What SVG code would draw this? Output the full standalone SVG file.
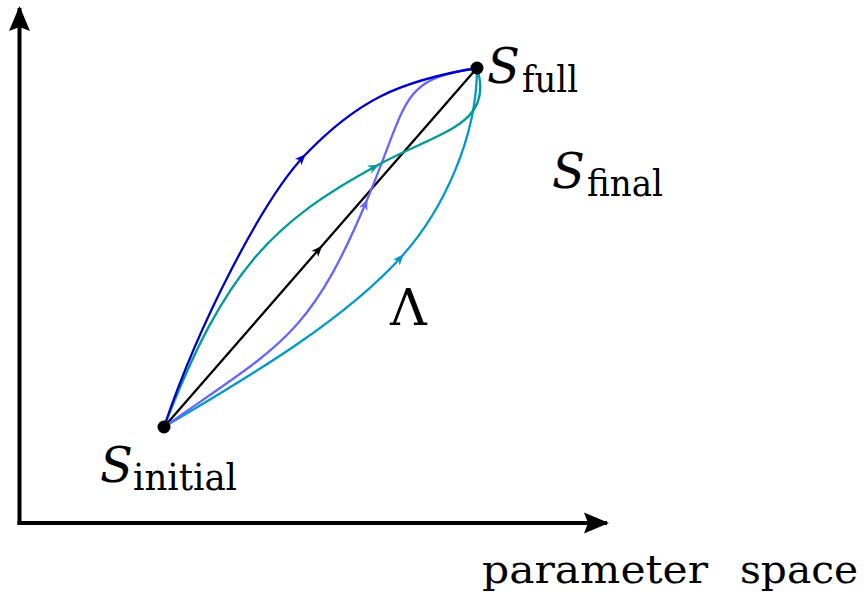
<svg xmlns="http://www.w3.org/2000/svg" width="867" height="597" viewBox="0 0 867 597">
<style>
.axis{fill:none;stroke:#000;stroke-width:4}
.path{fill:none;stroke-width:2.3;stroke-linecap:round}
text{font-family:'DejaVu Serif','Liberation Serif',serif;fill:#000}
.cal{font-style:italic;font-size:48px}
.sub{font-size:37px;font-style:normal}
</style>
<defs>
<marker id="axhead" markerUnits="userSpaceOnUse" markerWidth="1" markerHeight="1" refX="0" refY="0" orient="auto" overflow="visible">
<path d="M2,0 L-23,-10.5 L-19,0 L-23,10.5 Z" fill="#000"/>
</marker>
<marker id="mk-black" markerUnits="userSpaceOnUse" markerWidth="1" markerHeight="1" refX="0" refY="0" orient="auto" overflow="visible">
<path d="M1,0 L-10,-4.5 L-7,0 L-10,4.5 Z" fill="#000"/>
</marker>
<marker id="mk-blue" markerUnits="userSpaceOnUse" markerWidth="1" markerHeight="1" refX="0" refY="0" orient="auto" overflow="visible">
<path d="M1,0 L-10,-4.5 L-7,0 L-10,4.5 Z" fill="#0000cc"/>
</marker>
<marker id="mk-teal" markerUnits="userSpaceOnUse" markerWidth="1" markerHeight="1" refX="0" refY="0" orient="auto" overflow="visible">
<path d="M1,0 L-10,-4.5 L-7,0 L-10,4.5 Z" fill="#009999"/>
</marker>
<marker id="mk-purple" markerUnits="userSpaceOnUse" markerWidth="1" markerHeight="1" refX="0" refY="0" orient="auto" overflow="visible">
<path d="M1,0 L-10,-4.5 L-7,0 L-10,4.5 Z" fill="#6666ff"/>
</marker>
<marker id="mk-cyan" markerUnits="userSpaceOnUse" markerWidth="1" markerHeight="1" refX="0" refY="0" orient="auto" overflow="visible">
<path d="M1,0 L-10,-4.5 L-7,0 L-10,4.5 Z" fill="#0099cc"/>
</marker>
</defs>
<g id="axes">
<path class="axis" d="M19.5,525 L19.5,8" marker-end="url(#axhead)"/>
<path class="axis" d="M17.5,523 L607,523" marker-end="url(#axhead)"/>
</g>
<g id="connectors">
<path class="path" stroke="#000" d="M164,427 L321.4,246.4 L477,68" marker-mid="url(#mk-black)"/>
<path class="path" stroke="#0099cc" d="M164,427 C241.4,381.1 343.3,322.3 403,255 C442.8,210.1 477,138 477,68" marker-mid="url(#mk-cyan)"/>
<path class="path" stroke="#6666ff" d="M164,427 C280,345 309.1,338.5 367,200 C409.5,98.5 398.6,80 477,68" marker-mid="url(#mk-purple)"/>
<path class="path" stroke="#009999" d="M164,427 C225.2,268.9 272.5,222.2 378,165 C439.5,131.6 495,125 477,68" marker-mid="url(#mk-teal)"/>
<path class="path" stroke="#0000cc" d="M164,427 C199.2,322.5 263.6,198.2 305,155 C356.75,101 398.1,81.1 477,68" marker-mid="url(#mk-blue)"/>
</g>
<g id="node-initial">
<circle cx="164" cy="427" r="6.5" fill="#000"/>
<text class="cal" x="100" y="482">S<tspan class="sub" x="133" y="490" textLength="104" lengthAdjust="spacingAndGlyphs">initial</tspan></text>
</g>
<g id="node-full">
<circle cx="477" cy="68" r="6.5" fill="#000"/>
<text class="cal" x="487" y="83">S<tspan class="sub" x="522" y="92" textLength="56" lengthAdjust="spacingAndGlyphs">full</tspan></text>
</g>
<g id="node-final">
<text class="cal" x="552" y="188">S<tspan class="sub" x="587" y="196" textLength="76" lengthAdjust="spacingAndGlyphs">final</tspan></text>
</g>
<g id="label-lambda">
<text x="390" y="325" font-size="51">Λ</text>
</g>
<g id="label-axis">
<text font-size="40" y="583"><tspan x="482" textLength="226" lengthAdjust="spacingAndGlyphs">parameter</tspan><tspan x="740" textLength="118" lengthAdjust="spacingAndGlyphs">space</tspan></text>
</g>
</svg>
